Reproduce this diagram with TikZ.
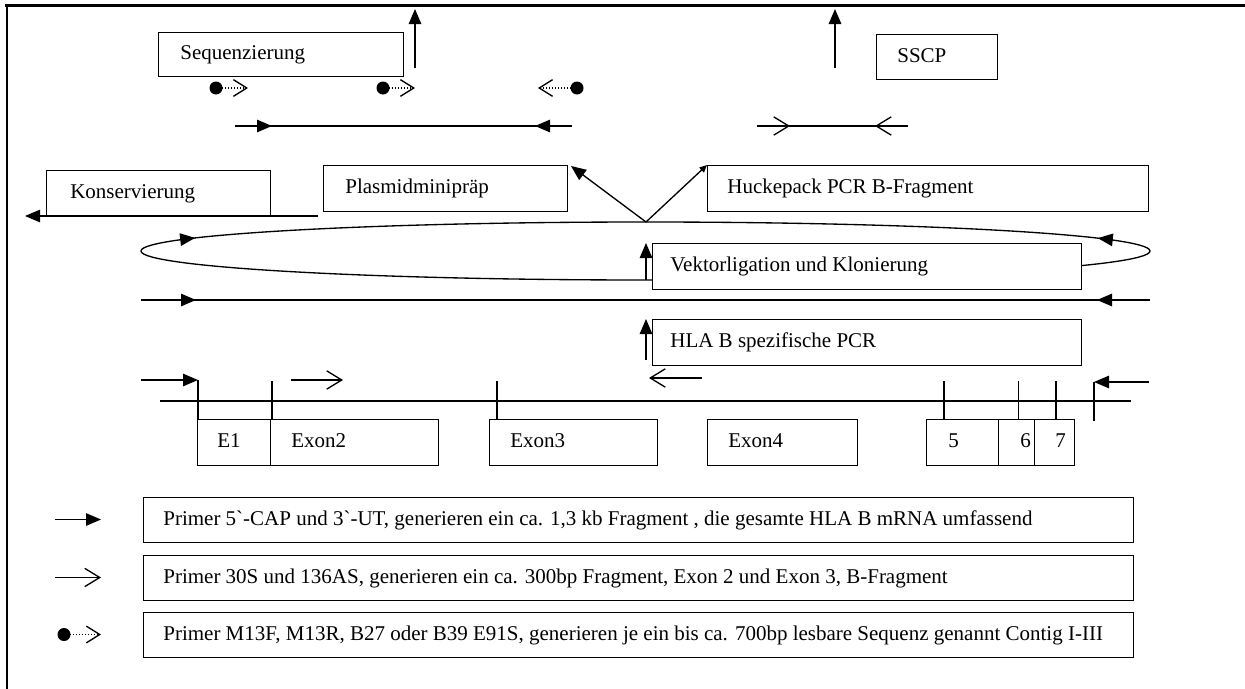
\documentclass[tikz,border=0pt]{standalone}
\usepackage{fontspec}
\setmainfont{Liberation Serif}
\usetikzlibrary{arrows.meta,decorations.markings}

\tikzset{
  ln/.style={line width=0.8pt},
  box/.style={draw, line width=0.8pt, fill=white, anchor=north west, inner sep=0pt},
  txt/.style={anchor=west, inner sep=0pt, font=\fontsize{12.6}{15}\selectfont, text height=8.4pt, text depth=2.2pt},
  fa/.style={-{Triangle[length=9pt,width=7.5pt]}},
  fasmall/.style={-{Triangle[length=4.5pt,width=4pt]}},
  oa/.style={-{Straight Barb[length=9pt,width=11pt]}},
}

% box with left-aligned caption: name, x, y, width(pt), height(pt), pad(pt), text
\newcommand\labbox[7]{%
  \node[box, minimum width=#4pt, minimum height=#5pt] (#1) at (#2,#3) {};
  \node[txt] (#1-t) at ([xshift=#6pt]#1.west) {#7};
}

% sequencing primer: name, circle x, tip x, height
\newcommand\seqprimer[4]{%
  \fill (#2,#4) circle[radius=6.5];
  \coordinate (#1) at (#3,#4);
  \draw[ln, densely dotted, -{Straight Barb[length=8pt,width=10pt]}] (#2,#4) -- (#1);
}

\begin{document}
\begin{tikzpicture}[x=0.6pt,y=-0.6pt]
\useasboundingbox (0,0) rectangle (1245,689);

% frame
\draw[line width=1.8pt] (5,5) -- (1245,5);
\draw[line width=1.2pt] (7,5) -- (7,689);

% --- top: sequencing and SSCP
\labbox{seq}{158}{32}{147}{26.4}{13.2}{Sequenzierung}
\labbox{sscp}{876}{34}{72.6}{27}{12.6}{SSCP}
\coordinate (up1a) at (415,68); \coordinate (up1b) at (415,9);
\draw[ln, fa] (up1a) -- (up1b);
\coordinate (up2a) at (835,68); \coordinate (up2b) at (835,9);
\draw[ln, fa] (up2a) -- (up2b);

\seqprimer{sp1}{216}{248}{88}
\seqprimer{sp2}{383}{415}{88}
\seqprimer{sp3}{577}{538}{88}

% full-length fragment
\coordinate (fl1) at (235,126); \coordinate (fl2) at (572,126);
\draw[ln] (fl1) -- (fl2);
\draw[ln, fa] (fl1) -- (272,126);
\draw[ln, fa] (fl2) -- (535,126);

% B-fragment
\coordinate (bf1) at (757,126); \coordinate (bf2) at (908,126);
\draw[ln] (bf1) -- (bf2);
\draw[ln, oa] (bf1) -- (790,126);
\draw[ln, oa] (bf2) -- (875,126);

% --- middle: plasmid steps
\labbox{kons}{46}{170}{134.4}{27.6}{14.4}{Konservierung}
\labbox{plas}{323}{165}{146.4}{27.6}{13.2}{Plasmidminipr\"ap}
\labbox{huck}{707}{165}{264.6}{27.6}{12}{Huckepack PCR B-Fragment}
\coordinate (konsEnd) at (318,216); \coordinate (konsTip) at (25,216);
\draw[ln, fa] (konsEnd) -- (konsTip);

% vector loop
\draw[ln, postaction={decorate}, decoration={markings,
    mark=at position 0.528 with {\arrow{Triangle[length=9pt,width=7.5pt]}},
    mark=at position 0.973 with {\arrowreversed{Triangle[length=9pt,width=7.5pt]}}}]
  (645.5,251) ellipse[x radius=504.5, y radius=29];
\coordinate (apex) at (646,222);
\draw[ln, fa] (apex) -- (571,166);
\draw[ln, fasmall] (apex) -- (plas.north east -| huck.west);

\labbox{vekt}{652}{243}{257.4}{27.6}{10.8}{Vektorligation und Klonierung}
\coordinate (vk0) at (646,280);
\draw[ln, fa] (vk0) -- (vk0 |- vekt.north);

% cDNA
\coordinate (cd1) at (141,300); \coordinate (cd2) at (1150,300);
\draw[ln] (cd1) -- (cd2);
\draw[ln, fa] (cd1) -- (196,300);
\draw[ln, fa] (cd2) -- (1097,300);

\labbox{hla}{652}{319}{257.4}{27.6}{10.8}{HLA B spezifische PCR}
\coordinate (hl0) at (646,360);
\draw[ln, fa] (hl0) -- (hl0 |- hla.north);

% --- gene
\coordinate (g1) at (160,401); \coordinate (g2) at (1131,401);
\draw[ln] (g1) -- (g2);

\labbox{e1}{197}{419}{43.8}{27.6}{12}{E1}
\labbox{e2}{270}{419}{100.8}{27.6}{12.6}{Exon2}
\labbox{e3}{489}{419}{100.8}{27.6}{12.6}{Exon3}
\labbox{e4}{707}{419}{90}{27.6}{12.6}{Exon4}
\labbox{e5}{926}{419}{43.2}{27.6}{13.2}{5}
\labbox{e6}{998}{419}{21.6}{27.6}{13.2}{6}
\labbox{e7}{1034}{419}{24}{27.6}{12.6}{7}

% splice ticks
\foreach \tx in {272,497,944,1018.5,1056}
  \draw[ln] (\tx,381) -- (\tx,419);

% primers on the gene
\coordinate (p5) at (141,380); \coordinate (p5t) at (198,380);
\draw[ln, fa] (p5) -- (p5t);
\draw[ln] (p5t) -- (p5t |- e1.north);
\coordinate (p3) at (1149,382); \coordinate (p3t) at (1094,382);
\draw[ln, fa] (p3) -- (p3t);
\draw[ln] (p3t) -- (1094,421);
\draw[ln, oa] (291,380) -- (343,380);
\draw[ln, oa] (702,378) -- (649,378);

% --- legend
\labbox{lg1}{143}{497}{594}{27}{12}{Primer 5\textasciigrave-CAP und 3\textasciigrave-UT, generieren ein ca. 1,3 kb Fragment , die gesamte HLA B mRNA umfassend}
\labbox{lg2}{143}{555}{594}{27}{12}{Primer 30S und 136AS, generieren ein ca. 300bp Fragment, Exon 2 und Exon 3, B-Fragment}
\labbox{lg3}{143}{612}{594}{27}{12}{Primer M13F, M13R, B27 oder B39 E91S, generieren je ein bis ca. 700bp lesbare Sequenz genannt Contig I-III}

\coordinate (l1a) at (55,519.5); \coordinate (l1b) at (101,519.5);
\draw[ln, fa] (l1a) -- (l1b);
\coordinate (l2a) at (55,577.5); \coordinate (l2b) at (101,577.5);
\draw[ln, oa] (l2a) -- (l2b);
\seqprimer{l3}{64}{101}{634.5}
\end{tikzpicture}
\end{document}
